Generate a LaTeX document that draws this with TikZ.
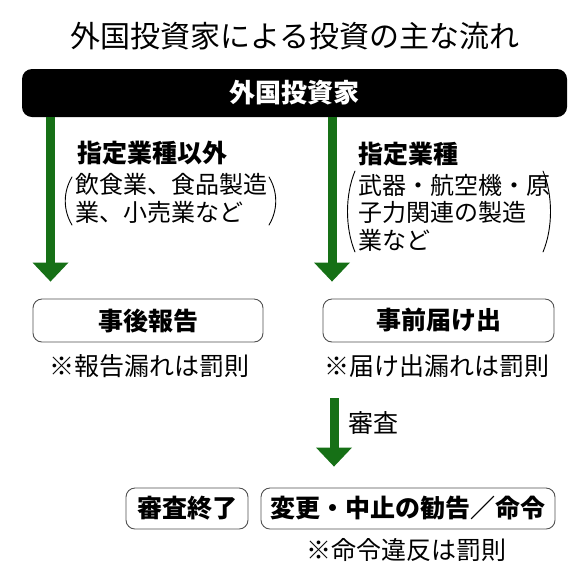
\documentclass[tikz,border=0pt]{standalone}
\usepackage{fontspec}
\setmainfont{Noto Sans CJK JP}
\usetikzlibrary{arrows.meta}
\definecolor{arrowgreen}{RGB}{22,112,22}
\definecolor{boxgray}{RGB}{80,80,80}
\begin{document}
\begin{tikzpicture}[x=1pt,y=-1pt,
  ttlstyle/.style={font=\fontsize{30}{36}\selectfont, inner sep=0},
  barbox/.style={fill=black, rounded corners=10pt, minimum width=545pt, minimum height=48pt, text=white, inner sep=0, font=\bfseries\fontsize{26}{30}\selectfont},
  stepbox/.style={draw=boxgray, line width=0.9pt, rounded corners=9pt, fill=white, inner sep=0, font=\bfseries\fontsize{25}{30}\selectfont},
  headlbl/.style={font=\bfseries\fontsize{25}{30}\selectfont, inner sep=0, anchor=west},
  bodylbl/.style={font=\fontsize{24}{27.5}\selectfont, inner sep=0, anchor=west, align=left},
  notelbl/.style={font=\fontsize{25}{30}\selectfont, inner sep=0},
  garrow/.style={draw=arrowgreen, line width=9pt, -{Triangle[width=36pt,length=19pt,line width=0pt,fill=arrowgreen]}},
  parenline/.style={line width=0.9pt, line cap=round}
]
\useasboundingbox (0,0) rectangle (580,574);
\node[ttlstyle] (ttl) at (295,36) {外国投資家による投資の主な流れ};
\node[barbox] (bar) at (294.5,93) {外国投資家};
\coordinate (lx) at (50.5,0);
\coordinate (rx) at (332,0);
\node[headlbl] (h1) at (77,153) {指定業種以外};
\node[bodylbl] (b1) at (75,198.5) {飲食業、食品製造\\業、小売業など};
\node[headlbl] (h2) at (358,154) {指定業種};
\node[bodylbl] (b2) at (358,212.5) {武器・航空機・原\\子力関連の製造\\業など};
\draw[parenline] (72,177) .. controls (63,192) and (63,210) .. (72,225);
\draw[parenline] (269,177) .. controls (278,192) and (278,210) .. (269,225);
\draw[parenline] (355,171) .. controls (345,195) and (345,228) .. (355,252);
\draw[parenline] (543,171) .. controls (553,195) and (553,228) .. (543,252);
\node[stepbox, minimum width=230pt, minimum height=43pt] (rep) at (148,320.5) {事後報告};
\node[stepbox, minimum width=231pt, minimum height=43pt] (pre) at (438.5,320.5) {事前届け出};
\node[notelbl] (n1) at (149,366) {※報告漏れは罰則};
\node[notelbl] (n2) at (437,366) {※届け出漏れは罰則};
\coordinate (s1) at (334,398);
\node[notelbl, anchor=west] (rev) at (348,423) {審査};
\node[stepbox, minimum width=122pt, minimum height=41pt] (fin) at (187,508.5) {審査終了};
\node[stepbox, minimum width=294pt, minimum height=41pt] (ord) at (408,508.5) {変更・中止の勧告／命令};
\node[notelbl] (n3) at (406,550) {※命令違反は罰則};
\draw[garrow, shorten >=17pt] (bar.south -| lx) -- (rep.north -| lx);
\draw[garrow, shorten >=17pt] (bar.south -| rx) -- (pre.north -| rx);
\draw[garrow, shorten >=21pt] (s1) -- (ord.north -| s1);
\end{tikzpicture}
\end{document}
